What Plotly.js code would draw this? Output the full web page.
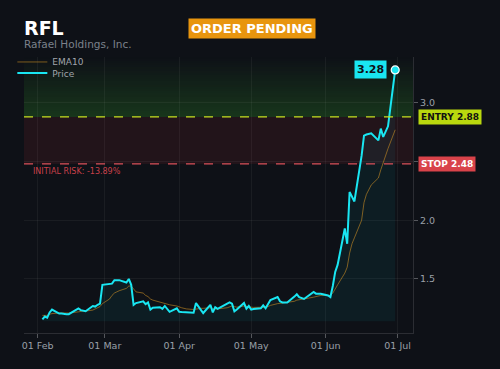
<!DOCTYPE html>
<html>
<head>
<meta charset="utf-8">
<script src="https://cdn.plot.ly/plotly-3.0.1.min.js"></script>
<style>
  html, body { margin: 0; padding: 0; background: #0e1117; }
  #chart { width: 500px; height: 369px; }
</style>
</head>
<body>
<div id="chart"></div>
<script>
// ---- Data ----
const ticker = "RFL";
const companyName = "Rafael Holdings, Inc.";
const statusLabel = "ORDER PENDING";
const entryPrice = 2.88;
const stopPrice = 2.48;
const initialRiskPct = -13.89;

const dates = [
  "2025-02-03","2025-02-04","2025-02-05","2025-02-06","2025-02-07","2025-02-10","2025-02-11","2025-02-12","2025-02-13","2025-02-14",
  "2025-02-18","2025-02-19","2025-02-20","2025-02-21","2025-02-24","2025-02-25","2025-02-26","2025-02-27","2025-02-28",
  "2025-03-03","2025-03-04","2025-03-05","2025-03-06","2025-03-07","2025-03-10","2025-03-11","2025-03-12","2025-03-13","2025-03-14",
  "2025-03-17","2025-03-18","2025-03-19","2025-03-20","2025-03-21","2025-03-24","2025-03-25","2025-03-26","2025-03-27","2025-03-28","2025-03-31",
  "2025-04-01","2025-04-02","2025-04-03","2025-04-04","2025-04-07","2025-04-08","2025-04-09","2025-04-10","2025-04-11",
  "2025-04-14","2025-04-15","2025-04-16","2025-04-17","2025-04-21","2025-04-22","2025-04-23","2025-04-24","2025-04-25","2025-04-28","2025-04-29","2025-04-30",
  "2025-05-01","2025-05-02","2025-05-05","2025-05-06","2025-05-07","2025-05-08","2025-05-09","2025-05-12","2025-05-13","2025-05-14","2025-05-15","2025-05-16",
  "2025-05-19","2025-05-20","2025-05-21","2025-05-22","2025-05-23","2025-05-27","2025-05-28","2025-05-29","2025-05-30",
  "2025-06-02","2025-06-03","2025-06-04","2025-06-05","2025-06-06","2025-06-09","2025-06-10","2025-06-11","2025-06-12","2025-06-13",
  "2025-06-16","2025-06-17","2025-06-18","2025-06-20","2025-06-23","2025-06-24","2025-06-25","2025-06-26","2025-06-27","2025-06-30"
];

const price = [
  1.156,1.18,1.17,1.215,1.24,1.205,1.205,1.20,1.20,1.20,
  1.25,1.235,1.23,1.225,1.27,1.265,1.28,1.29,1.45,
  1.455,1.46,1.49,1.49,1.49,1.47,1.50,1.45,1.28,1.295,
  1.31,1.285,1.30,1.24,1.256,1.26,1.245,1.27,1.24,1.22,1.25,
  1.22,1.218,1.216,1.214,1.213,1.295,1.27,1.24,1.21,
  1.28,1.215,1.26,1.245,1.29,1.30,1.29,1.225,1.24,1.295,1.247,1.27,
  1.24,1.245,1.25,1.275,1.25,1.29,1.32,1.346,1.31,1.30,1.30,1.30,
  1.35,1.37,1.346,1.34,1.33,1.39,1.375,1.375,1.375,
  1.36,1.346,1.44,1.56,1.62,1.93,1.80,2.24,2.20,2.16,
  2.55,2.72,2.73,2.74,2.68,2.78,2.71,2.76,2.80,3.28
];

const ema10 = [
  1.19,1.19,1.19,1.20,1.205,1.21,1.21,1.21,1.21,1.21,
  1.22,1.225,1.227,1.227,1.235,1.245,1.255,1.265,1.29,
  1.33,1.36,1.38,1.39,1.40,1.42,1.44,1.44,1.41,1.39,
  1.38,1.36,1.35,1.33,1.32,1.30,1.295,1.29,1.285,1.28,1.27,
  1.26,1.255,1.25,1.245,1.24,1.245,1.25,1.25,1.25,
  1.255,1.245,1.245,1.245,1.255,1.265,1.27,1.265,1.26,1.27,1.265,1.265,
  1.26,1.258,1.257,1.256,1.26,1.265,1.275,1.29,1.295,1.295,1.298,1.30,
  1.31,1.32,1.325,1.33,1.33,1.345,1.35,1.355,1.36,
  1.36,1.36,1.38,1.41,1.45,1.55,1.60,1.72,1.80,1.85,
  2.00,2.15,2.22,2.30,2.36,2.43,2.49,2.55,2.61,2.77
];

const yTickVals = [1.5, 2.0, 2.5, 3.0];
const xTickVals = ["2025-02-01","2025-03-01","2025-04-01","2025-05-01","2025-06-01","2025-07-01"];

// ---- Styling ----
const BG = "#0e1117";
const CYAN = "#19e6f2";
const FILL_BASE = 1.14;
const Y_RANGE = [1.04, 3.39];
const X_RANGE = ["2025-01-26 08:00", "2025-07-07 10:00"];
const FONT = "DejaVu Sans, sans-serif";

const last = price.length - 1;

const traces = [
  { // invisible baseline for price fill
    x: dates, y: dates.map(() => FILL_BASE), mode: "lines",
    line: { width: 0, color: "rgba(0,0,0,0)" }, hoverinfo: "skip", showlegend: false
  },
  {
    x: dates, y: price, mode: "lines", name: "Price fill",
    fill: "tonexty", fillcolor: "rgba(0,220,235,0.06)",
    line: { color: "rgba(0,0,0,0)", width: 0 }, showlegend: false, hoverinfo: "skip"
  },
  {
    x: dates, y: ema10, mode: "lines", name: "EMA10", legend: "legend",
    line: { color: "rgba(200,140,35,0.6)", width: 1 }
  },
  {
    x: dates, y: price, mode: "lines", name: "Price", legend: "legend2",
    line: { color: CYAN, width: 2 }
  },
  {
    x: [dates[last]], y: [price[last]], mode: "markers", showlegend: false,
    marker: { color: CYAN, size: 8, line: { color: "#ffffff", width: 1.2 } }
  }
];

// Green gradient zone (entry -> top), red zone (stop -> entry)
const shapes = [];
const nBands = 30;
for (let i = 0; i < nBands; i++) {
  const y0 = entryPrice + (Y_RANGE[1] - entryPrice) * i / nBands;
  const y1 = entryPrice + (Y_RANGE[1] - entryPrice) * (i + 1) / nBands;
  const a = 0.28 * (1 - (i + 0.5) / nBands);
  shapes.push({ type: "rect", xref: "paper", x0: 0, x1: 1, yref: "y", y0: y0, y1: y1,
    fillcolor: `rgba(50,150,40,${a.toFixed(3)})`, line: { width: 0 }, layer: "below" });
}
shapes.push({ type: "rect", xref: "paper", x0: 0, x1: 1, yref: "y", y0: stopPrice, y1: entryPrice,
  fillcolor: "rgba(220,50,60,0.10)", line: { width: 0 }, layer: "below" });
shapes.push({ type: "line", xref: "paper", x0: 0, x1: 1, yref: "y", y0: entryPrice, y1: entryPrice,
  line: { color: "#c8e020", width: 1.3, dash: "dash" } });
shapes.push({ type: "line", xref: "paper", x0: 0, x1: 1, yref: "y", y0: stopPrice, y1: stopPrice,
  line: { color: "#d9505a", width: 1.1, dash: "dash" } });

const annotations = [
  { xref: "paper", yref: "paper", x: -0.005, y: 1.104, xanchor: "left", yanchor: "middle",
    text: "<b>" + ticker + "</b>", showarrow: false, font: { family: FONT, size: 19, color: "#ffffff" } },
  { xref: "paper", yref: "paper", x: -0.005, y: 1.046, xanchor: "left", yanchor: "middle",
    text: companyName, showarrow: false, font: { family: FONT, size: 10.5, color: "#7c818b" } },
  { xref: "paper", yref: "paper", x: 0.586, y: 1.105, xanchor: "center", yanchor: "middle",
    text: "<b>" + statusLabel + "</b>", showarrow: false, bgcolor: "#e8950e",
    borderpad: 2, font: { family: FONT, size: 13, color: "#ffffff" } },
  { xref: "paper", yref: "y", x: 1, y: entryPrice, xanchor: "left", yanchor: "middle", xshift: 5,
    text: "<b>ENTRY " + entryPrice.toFixed(2) + "</b>", showarrow: false, bgcolor: "#b9d80e",
    borderpad: 2, font: { family: FONT, size: 9, color: "#111111" } },
  { xref: "paper", yref: "y", x: 1, y: stopPrice, xanchor: "left", yanchor: "middle", xshift: 5,
    text: "<b>STOP " + stopPrice.toFixed(2) + "</b>", showarrow: false, bgcolor: "#d9434a",
    borderpad: 2, font: { family: FONT, size: 9, color: "#ffffff" } },
  { xref: "paper", yref: "y", x: 0.018, y: stopPrice, xanchor: "left", yanchor: "top", yshift: -1,
    text: "INITIAL RISK: " + initialRiskPct.toFixed(2) + "%", showarrow: false,
    font: { family: FONT, size: 8, color: "#c8404a" } },
  { xref: "x", yref: "y", x: dates[last], y: price[last], xanchor: "right", yanchor: "middle", xshift: -8,
    text: "<b>" + price[last].toFixed(2) + "</b>", showarrow: false, bgcolor: CYAN,
    borderpad: 2, font: { family: FONT, size: 11, color: "#0e1117" } }
];

const legendStyle = {
  xanchor: "left", yanchor: "middle", bgcolor: "rgba(0,0,0,0)", borderwidth: 0,
  font: { family: FONT, size: 9, color: "#a0a4ab" }, itemwidth: 30, traceorder: "normal"
};

const layout = {
  width: 500, height: 369,
  paper_bgcolor: BG, plot_bgcolor: BG,
  margin: { l: 24, r: 87, t: 57, b: 36 },
  font: { family: FONT, color: "#9aa0a8", size: 9.5 },
  showlegend: true,
  legend: Object.assign({ x: -0.03, y: 0.982 }, legendStyle),
  legend2: Object.assign({ x: -0.03, y: 0.942 }, legendStyle),
  xaxis: {
    type: "date", range: X_RANGE, tickvals: xTickVals, tickformat: "%d %b",
    showgrid: true, gridcolor: "rgba(255,255,255,0.05)", zeroline: false,
    showline: true, linecolor: "rgba(255,255,255,0.12)", ticks: "outside", ticklen: 4,
    tickcolor: "rgba(255,255,255,0.3)", tickfont: { family: FONT, size: 9.5, color: "#9aa0a8" }
  },
  yaxis: {
    side: "right", range: Y_RANGE, tickvals: yTickVals, tickformat: ".1f",
    showgrid: true, gridcolor: "rgba(255,255,255,0.05)", zeroline: false,
    showline: true, linecolor: "rgba(255,255,255,0.12)", ticks: "outside", ticklen: 4,
    tickcolor: "rgba(255,255,255,0.3)", tickfont: { family: FONT, size: 9.5, color: "#9aa0a8" }
  },
  shapes: shapes,
  annotations: annotations
};

Plotly.newPlot("chart", traces, layout, { displayModeBar: false, staticPlot: true });
</script>
</body>
</html>
